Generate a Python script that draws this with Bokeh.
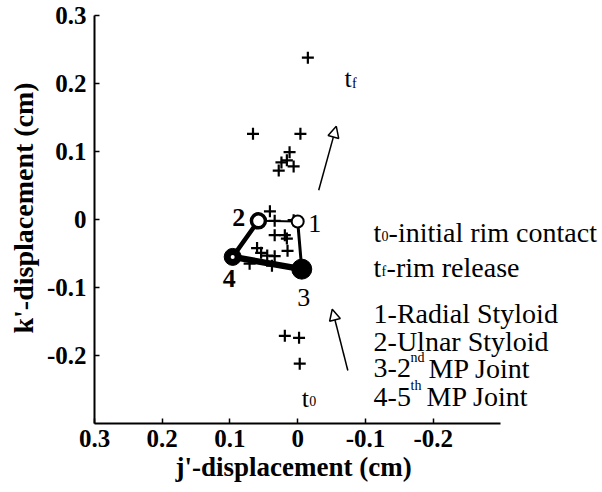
from bokeh.plotting import figure
from bokeh.models import (Range1d, FixedTicker, CustomJSTickFormatter, Arrow,
                          NormalHead, ColumnDataSource, Label, Title)
from bokeh.embed import file_html
from bokeh.resources import INLINE

# ---------------- data ----------------
# "+" markers (j', k') in cm
plus_j = [-0.015, 0.066, -0.004, 0.012, 0.024, 0.028, 0.006, 0.016,
          0.019, -0.002, -0.003,
          0.041, 0.034, 0.006, 0.034, 0.019, 0.016, 0.015, 0.060, 0.054,
          0.045, 0.034, 0.071, 0.038]
plus_k = [0.238, 0.126, 0.126, 0.099, 0.084, 0.072, 0.078, 0.087,
          -0.171, -0.174, -0.212,
          0.012, -0.002, -0.001, -0.023, -0.023, -0.028, -0.046, -0.042, -0.049,
          -0.053, -0.054, -0.065, -0.068]

# joints 1..4 : Radial Styloid, Ulnar Styloid, 2nd MP, 5th MP
joint_names = ["1", "2", "3", "4"]
joint_j = [0.0, 0.058, -0.006, 0.096]
joint_k = [-0.003, -0.002, -0.073, -0.055]

# arrows (tail -> head)
arrow_j0 = [-0.031, -0.074]
arrow_k0 = [0.043, -0.222]
arrow_j1 = [-0.057, -0.051]
arrow_k1 = [0.137, -0.132]

x_ticks = [0.3, 0.2, 0.1, 0.0, -0.1, -0.2]
y_ticks = [-0.2, -0.1, 0.0, 0.1, 0.2, 0.3]
x_axis_extent = (-0.3, 0.3)

SERIF = "Liberation Serif"
PX = 1.0 / 680.0  # data units per pixel (approx.)

# frame spans to the right page edge so the annotation text is not clipped;
# the drawn x axis is bounded to +/-0.3 as in the original
p = figure(width=602, height=492, output_backend="svg", toolbar_location=None,
           x_range=Range1d(0.3, -0.45), y_range=Range1d(-0.3, 0.3),
           min_border_left=92, min_border_right=0, min_border_top=15,
           min_border_bottom=69)
p.outline_line_color = None
p.xgrid.visible = False
p.ygrid.visible = False
p.background_fill_color = "white"
p.border_fill_color = "white"

fmt = CustomJSTickFormatter(code="return Math.abs(tick) < 1e-9 ? '0' : tick.toFixed(1);")
for ax, ticks in ((p.xaxis[0], x_ticks), (p.yaxis[0], y_ticks)):
    ax.ticker = FixedTicker(ticks=ticks)
    ax.formatter = fmt
    ax.axis_line_width = 2
    ax.axis_line_color = "black"
    ax.major_tick_in = 5
    ax.major_tick_out = 0
    ax.major_tick_line_width = 1.5
    ax.minor_tick_line_color = None
    ax.major_label_text_font = SERIF
    ax.major_label_text_font_style = "bold"
    ax.major_label_text_font_size = "25px"
    ax.major_label_text_color = "black"

p.xaxis.bounds = x_axis_extent
p.xaxis.major_label_standoff = 6
p.yaxis.major_label_standoff = 8

# axis titles (side titles, positioned along the drawn axis)
p.add_layout(Title(text="j'-displacement (cm)", align="left", offset=81, standoff=0,
                   vertical_align="bottom",
                   text_font=SERIF, text_font_size="27px", text_font_style="bold",
                   text_color="black"), "below")
p.add_layout(Title(text="k'-displacement (cm)", align="left", offset=90,
                   text_font=SERIF, text_font_size="28px", text_font_style="bold",
                   text_color="black"), "left")

# "+" markers
p.scatter(plus_j, plus_k, marker="cross", size=12, line_width=2.2, color="black")

# hand quadrilateral: 1-2, 2-4, 4-3, 3-1
seg_from = [0, 1, 3, 2]
seg_to = [1, 3, 2, 0]
p.segment(x0=[joint_j[i] for i in seg_from], y0=[joint_k[i] for i in seg_from],
          x1=[joint_j[i] for i in seg_to], y1=[joint_k[i] for i in seg_to],
          line_width=[2, 4.5, 6.5, 3], line_color="black", line_cap="round")

# joint markers
p.scatter([joint_j[0]], [joint_k[0]], marker="circle", size=12, line_width=2,
          line_color="black", fill_color="white")
p.scatter([joint_j[1]], [joint_k[1]], marker="circle", size=14, line_width=3.5,
          line_color="black", fill_color="white")
p.scatter([joint_j[2]], [joint_k[2]], marker="circle", size=20,
          line_color="black", fill_color="black")
p.scatter([joint_j[3]], [joint_k[3]], marker="circle", size=17,
          line_color="black", fill_color="black")
p.scatter([joint_j[3]], [joint_k[3]], marker="circle", size=4,
          line_color=None, fill_color="white")


def lab(x, y, s, size="28px", dx=0, style="normal", align="left", baseline="alphabetic"):
    p.add_layout(Label(x=x, y=y, text=s, x_offset=dx, text_font=SERIF,
                       text_font_size=size, text_font_style=style,
                       text_align=align, text_baseline=baseline, text_color="black"))


# joint labels
lab_j = [-0.025, 0.087, -0.009, 0.101]
lab_k = [-0.006, 0.003, -0.115, -0.087]
for i in range(4):
    lab(lab_j[i], lab_k[i], joint_names[i], "26px",
        style="bold" if i in (1, 3) else "normal", align="center", baseline="middle")

# arrows
asrc = ColumnDataSource(dict(x0=arrow_j0, y0=arrow_k0, x1=arrow_j1, y1=arrow_k1))
p.add_layout(Arrow(x_start="x0", y_start="y0", x_end="x1", y_end="y1", source=asrc,
                   line_width=1.5, line_color="black",
                   end=NormalHead(size=11, fill_color="white", line_color="black",
                                  line_width=1.5)))

# t_f and t_0 labels near the arrows
lab(-0.069, 0.207, "t", "26px")
lab(-0.069, 0.207 - 5 * PX, "f", "14px", dx=7.5)
lab(-0.006, -0.263, "t", "26px")
lab(-0.006, -0.263 - 3 * PX, "0", "14px", dx=7.5)

# legend text
LX = -0.112
base = [-0.0187, -0.0701, -0.138, -0.180, -0.219, -0.261]

lab(LX, base[0], "t")
lab(LX, base[0] - 4 * PX, "0", "14px", dx=8)
lab(LX, base[0], "-initial rim contact", dx=15)
lab(LX, base[1], "t")
lab(LX, base[1] - 4 * PX, "f", "14px", dx=8)
lab(LX, base[1], "-rim release", dx=13)
lab(LX, base[2], "1-Radial Styloid")
lab(LX, base[3], "2-Ulnar Styloid")
lab(LX, base[4], "3-2")
lab(LX, base[4] + 11 * PX, "nd", "14px", dx=37)
lab(LX, base[4], "MP Joint", dx=55)
lab(LX, base[5], "4-5")
lab(LX, base[5] + 11 * PX, "th", "14px", dx=37)
lab(LX, base[5], "MP Joint", dx=53)

open("out.html", "w").write(file_html(p, INLINE))
